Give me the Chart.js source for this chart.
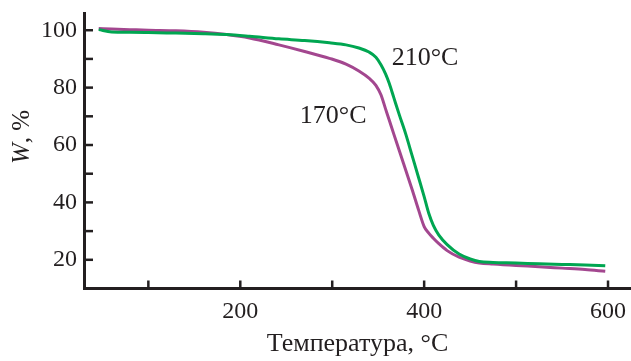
<!DOCTYPE html>
<html lang="ru">
<head>
<meta charset="UTF-8">
<title>TGA</title>
<style>
    body { margin: 0; background: #fff; }
    .chartBox { width: 631px; height: 361px; }
</style>
</head>
<body>
<div class="chartBox"><canvas id="tgaChart"></canvas></div>
<script src="https://cdn.jsdelivr.net/npm/chart.js@4.4.0/dist/chart.umd.min.js"></script>
<script>
    // data
    const temps = [46, 60, 80, 100, 130, 160, 185, 210, 242, 270, 297, 315, 329, 340, 347.5, 353, 358, 362, 367, 373, 380, 387, 394, 400, 405, 410, 416, 425, 438, 450, 460, 475, 500, 525, 550, 575, 597];
    const w210 = [100.2, 99.4, 99.3, 99.2, 99.0, 98.8, 98.5, 97.9, 97.0, 96.4, 95.6, 94.9, 93.8, 92.4, 90.6, 88.0, 84.8, 81.5, 76.5, 70.5, 63.8, 56.2, 48.6, 42.0, 36.2, 32.0, 28.6, 25.3, 22.0, 20.3, 19.4, 19.1, 18.9, 18.6, 18.4, 18.2, 17.9];
    const w170 = [100.6, 100.4, 100.2, 100.0, 99.8, 99.3, 98.5, 97.3, 94.9, 92.6, 90.2, 88.2, 85.8, 83.3, 80.8, 77.5, 72.6, 68.7, 63.8, 58.0, 51.2, 44.4, 37.3, 31.6, 29.3, 27.5, 25.6, 23.2, 20.9, 19.6, 18.9, 18.5, 18.0, 17.6, 17.1, 16.6, 16.0];
    const xTickValues = [100, 200, 300, 400, 500, 600];
    const xLabelled = [200, 400, 600];
    const yTickValues = [20, 30, 40, 50, 60, 70, 80, 90, 100];
    const yLabelled = [20, 40, 60, 80, 100];
    const curveNotes = [
        { text: '210°C', x: 401, y: 90.1 },
        { text: '170°C', x: 301, y: 70.2 }
    ];

    const ink = '#231f20';
    const serif = '"Liberation Serif", "Times New Roman", serif';

    // inward tick marks, y title (italic W), curve notes
    const extras = {
        id: 'extras',
        afterDraw(chart) {
            const ctx = chart.ctx;
            const xs = chart.scales.x, ys = chart.scales.y;
            const area = chart.chartArea;
            ctx.save();
            ctx.strokeStyle = ink;
            ctx.lineWidth = 2.5;
            xs.ticks.forEach(t => {
                const px = xs.getPixelForValue(t.value);
                ctx.beginPath();
                ctx.moveTo(px, area.bottom);
                ctx.lineTo(px, area.bottom - 8);
                ctx.stroke();
            });
            ys.ticks.forEach(t => {
                const py = ys.getPixelForValue(t.value);
                ctx.beginPath();
                ctx.moveTo(area.left, py);
                ctx.lineTo(area.left + 9, py);
                ctx.stroke();
            });

            ctx.fillStyle = ink;
            ctx.textBaseline = 'middle';
            ctx.textAlign = 'center';
            ctx.font = '26px ' + serif;
            curveNotes.forEach(n => {
                ctx.fillText(n.text, xs.getPixelForValue(n.x), ys.getPixelForValue(n.y));
            });

            // y axis title: "W, %" with italic W
            const italic = 'italic 25px ' + serif;
            const normal = '25px ' + serif;
            ctx.font = italic;
            const wW = ctx.measureText('W').width;
            ctx.font = normal;
            const wRest = ctx.measureText(', %').width;
            const total = wW + wRest;
            ctx.translate(22, area.top + (area.bottom - area.top) * 0.45);
            ctx.rotate(-Math.PI / 2);
            ctx.textAlign = 'left';
            ctx.font = italic;
            ctx.fillText('W', -total / 2, 0);
            ctx.font = normal;
            ctx.fillText(', %', -total / 2 + wW, 0);
            ctx.restore();
        }
    };

    const data = {
        datasets: [
            {
                label: '210°C',
                data: temps.map((t, i) => ({ x: t, y: w210[i] })),
                borderColor: '#00a651',
                borderWidth: 3,
                pointRadius: 0,
                cubicInterpolationMode: 'monotone'
            },
            {
                label: '170°C',
                data: temps.map((t, i) => ({ x: t, y: w170[i] })),
                borderColor: '#a3478f',
                borderWidth: 3,
                pointRadius: 0,
                cubicInterpolationMode: 'monotone'
            }
        ]
    };

    const config = {
        type: 'line',
        data,
        plugins: [extras],
        options: {
            responsive: true,
            maintainAspectRatio: false,
            animation: false,
            layout: { padding: { top: 13, right: 0, left: 0, bottom: 0 } },
            plugins: {
                legend: { display: false },
                tooltip: { enabled: false }
            },
            scales: {
                x: {
                    type: 'linear',
                    min: 30,
                    max: 625,
                    afterBuildTicks(scale) { scale.ticks = xTickValues.map(v => ({ value: v })); },
                    afterFit(scale) {
                        scale.height = 72.5;
                        scale.paddingLeft = 0;
                        scale.paddingRight = 0;
                    },
                    grid: { display: false, drawTicks: false },
                    border: { display: true, color: ink, width: 3 },
                    ticks: {
                        autoSkip: false,
                        maxRotation: 0,
                        padding: 9,
                        color: ink,
                        font: { family: serif, size: 24 },
                        callback: v => xLabelled.includes(v) ? String(v) : ''
                    },
                    title: {
                        display: true,
                        text: 'Температура, °C',
                        color: ink,
                        font: { family: serif, size: 26 },
                        padding: { top: 0, bottom: 1 }
                    }
                },
                y: {
                    min: 10,
                    max: 106,
                    afterBuildTicks(scale) { scale.ticks = yTickValues.map(v => ({ value: v })); },
                    afterFit(scale) {
                        scale.width = 84;
                        scale.paddingTop = 0;
                        scale.paddingBottom = 0;
                    },
                    grid: { display: false, drawTicks: false },
                    border: { display: true, color: ink, width: 3 },
                    ticks: {
                        autoSkip: false,
                        padding: 7,
                        color: ink,
                        font: { family: serif, size: 24 },
                        callback: v => yLabelled.includes(v) ? String(v) : ''
                    }
                }
            }
        }
    };

    const tgaChart = new Chart(document.getElementById('tgaChart'), config);
</script>
</body>
</html>
